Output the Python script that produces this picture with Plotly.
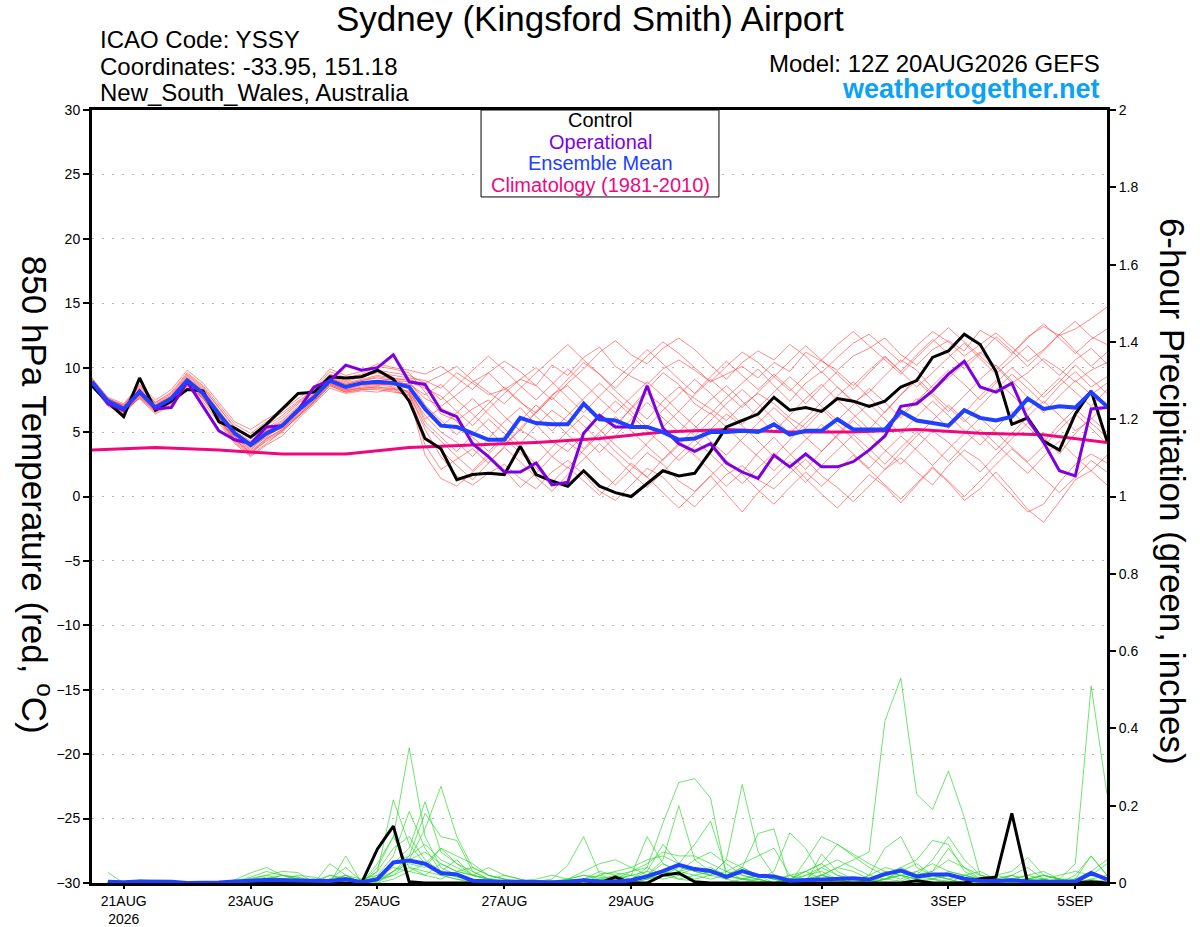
import plotly.graph_objects as go
import pandas as pd

# 6-hourly valid times, 20AUG2026 12Z -> 05SEP2026 12Z
times = pd.date_range("2026-08-20 12:00", periods=65, freq="6h")
clim_times = pd.date_range("2026-08-20 12:00", periods=17, freq="24h")

tick_dates = ["2026-08-21", "2026-08-23", "2026-08-25", "2026-08-27",
              "2026-08-29", "2026-09-01", "2026-09-03", "2026-09-05"]
tick_labels = ["21AUG<br>2026", "23AUG", "25AUG", "27AUG", "29AUG", "1SEP", "3SEP", "5SEP"]

# 850 hPa temperature (C)
control_t = [8.6, 7.3, 6.2, 9.2, 6.7, 7.4, 8.3, 8.2, 5.8, 5.3, 4.6, 5.6, 6.8, 8.0, 8.1, 9.3, 9.2, 9.3, 9.8, 9.1, 7.4,
             4.5, 3.7, 1.3, 1.7, 1.8, 1.7, 3.9, 1.7, 1.2, 0.8, 2.0, 0.8, 0.3, 0.0, 1.0, 2.0, 1.6, 1.8, 3.5, 5.4, 5.9, 6.4,
             7.7, 6.7, 6.9, 6.6, 7.6, 7.4, 7.0, 7.4, 8.5, 9.0, 10.8, 11.3, 12.6, 11.8, 9.7, 5.6, 6.1, 4.3, 3.6, 6.4, 8.2, 4.3]
operational_t = [8.9, 7.2, 6.7, 8.2, 6.8, 6.9, 8.9, 7.0, 5.1, 4.4, 4.1, 5.4, 5.5, 6.7, 8.5, 9.0, 10.2, 9.8, 10.0, 11.0, 8.9,
                 8.7, 6.7, 6.2, 4.1, 3.1, 1.9, 1.9, 2.6, 0.9, 1.1, 4.9, 6.3, 5.4, 5.4, 8.6, 5.3, 4.1, 3.5, 4.1, 2.6, 1.9, 1.4,
                 3.2, 2.3, 3.3, 2.3, 2.3, 2.7, 3.6, 4.7, 7.0, 7.2, 8.2, 9.5, 10.5, 8.5, 8.1, 8.8, 6.0, 4.2, 2.0, 1.6, 6.8, 6.9]
mean_t = [8.9, 7.4, 6.8, 8.1, 6.9, 7.6, 9.0, 8.0, 6.4, 4.9, 4.0, 4.9, 5.5, 6.7, 7.7, 9.0, 8.5, 8.8, 8.9, 8.8, 8.5,
          6.8, 5.5, 5.4, 4.9, 4.4, 4.4, 6.1, 5.7, 5.6, 5.6, 7.2, 6.0, 5.9, 5.4, 5.4, 5.0, 4.4, 4.5, 5.0, 5.0, 5.1, 5.0,
          5.6, 4.8, 5.1, 5.1, 6.0, 5.2, 5.2, 5.2, 6.6, 5.9, 5.7, 5.5, 6.7, 6.1, 5.9, 6.2, 7.6, 6.8, 7.0, 6.9, 8.1, 7.0]
climatology_t = [3.6, 3.8, 3.6, 3.3, 3.3, 3.8, 4.0, 4.2, 4.5, 5.0, 5.2, 5.0, 5.0, 5.2, 4.9, 4.8, 4.2]

member_t01 = [9.0, 7.6, 7.0, 8.4, 7.2, 7.9, 9.4, 8.4, 6.9, 5.4, 4.5, 5.3, 6.1, 7.2, 8.1, 9.4, 8.9, 9.3, 9.6, 9.4, 9.2,
              9.0, 8.4, 9.6, 8.8, 7.9, 8.3, 9.1, 8.6, 10.2, 9.4, 10.8, 11.6, 10.1, 9.3, 8.7, 9.9, 10.6, 9.8, 8.9, 9.5, 10.1, 9.2,
              10.4, 9.7, 11.2, 10.5, 9.8, 10.9, 11.5, 12.3, 11.0, 10.2, 11.4, 12.1, 11.3, 12.9, 12.2, 11.1, 12.4, 13.2, 12.5, 13.0, 13.8, 14.7]
member_t02 = [8.7, 7.2, 6.5, 7.8, 6.6, 7.3, 8.7, 7.7, 6.0, 4.4, 3.4, 4.3, 5.0, 6.3, 7.4, 8.7, 8.2, 8.5, 8.6, 8.9, 8.0,
              5.2, 3.1, 1.6, 0.9, 1.8, 2.5, 1.4, 0.6, 1.9, 2.8, 1.7, 0.4, -0.3, 0.9, 2.2, 1.5, 0.2, -0.8, 0.5, 1.7, 2.4, 1.3,
              0.6, 1.8, 2.9, 1.6, 0.7, -0.4, 0.8, 2.1, 3.0, 1.9, 0.9, 2.4, 3.6, 2.8, 1.4, 0.1, -1.2, -0.6, 1.1, 2.5, 3.3, 2.6]
member_t03 = [9.1, 7.5, 7.1, 8.6, 7.3, 8.1, 9.6, 8.6, 7.1, 5.6, 4.9, 5.8, 6.5, 7.4, 8.3, 9.7, 9.2, 9.5, 10.1, 9.9, 9.6,
              8.1, 6.4, 5.9, 6.8, 7.5, 6.2, 5.1, 6.6, 7.9, 8.6, 7.4, 6.1, 5.3, 6.9, 8.3, 9.6, 8.7, 7.2, 6.4, 7.7, 8.8, 9.9,
              8.6, 7.4, 8.8, 9.7, 8.5, 7.3, 8.1, 9.4, 10.6, 9.8, 8.4, 9.2, 10.3, 11.2, 10.1, 8.8, 9.6, 10.7, 9.9, 8.9, 9.8, 10.4]
member_t04 = [8.8, 7.1, 6.7, 7.6, 6.4, 7.1, 8.5, 7.4, 5.7, 4.1, 3.1, 4.0, 4.7, 6.0, 7.2, 8.4, 8.0, 8.2, 8.1, 8.4, 7.6,
              4.0, 2.1, 2.9, 3.7, 2.6, 3.9, 5.2, 4.4, 3.1, 2.2, 3.6, 4.8, 3.5, 2.4, 1.5, 2.9, 4.1, 3.2, 2.0, 0.8, 1.9, 3.4,
              4.6, 3.3, 2.1, 3.5, 4.7, 5.9, 4.8, 3.6, 2.5, 3.8, 5.1, 4.2, 3.0, 1.9, 3.2, 4.5, 5.7, 4.6, 3.3, 4.9, 6.1, 5.0]
member_t05 = [9.0, 7.4, 6.9, 8.2, 7.0, 7.7, 9.1, 8.1, 6.5, 4.7, 3.8, 4.6, 5.6, 6.8, 7.9, 9.1, 8.6, 8.7, 8.8, 8.6, 8.8,
              7.6, 7.0, 7.9, 8.9, 9.6, 8.4, 7.3, 6.5, 7.8, 9.1, 10.4, 9.5, 8.2, 7.1, 6.0, 7.4, 8.5, 7.6, 6.8, 5.9, 7.1, 8.0,
              7.2, 6.1, 5.3, 6.6, 7.8, 8.9, 7.7, 6.5, 7.9, 9.2, 8.0, 6.9, 5.8, 7.0, 8.3, 9.5, 8.4, 7.2, 8.6, 9.7, 8.5, 9.3]
member_t06 = [8.9, 7.3, 6.6, 7.9, 6.8, 7.5, 8.9, 7.9, 6.2, 4.6, 3.7, 4.8, 5.3, 6.5, 7.6, 8.8, 8.3, 8.6, 8.7, 8.5, 8.1,
              6.3, 5.0, 4.2, 3.1, 4.5, 5.8, 6.9, 5.6, 4.3, 3.5, 4.8, 6.2, 7.4, 6.3, 5.1, 4.0, 2.8, 3.9, 5.2, 6.4, 5.5, 4.3,
              3.1, 4.4, 5.7, 6.8, 5.6, 4.5, 3.2, 2.1, 3.4, 4.7, 5.9, 7.1, 6.0, 4.8, 3.6, 4.9, 6.2, 7.4, 6.3, 5.1, 6.0, 7.2]
member_t07 = [8.6, 7.0, 6.4, 7.7, 6.5, 7.2, 8.6, 7.6, 5.9, 4.2, 3.2, 4.1, 5.1, 6.2, 7.3, 8.6, 8.1, 8.3, 8.4, 8.2, 7.8,
              3.2, 1.4, 0.8, 1.9, 3.0, 2.1, 0.7, 1.8, 3.1, 4.2, 3.3, 2.0, 0.9, 2.1, 3.4, 2.5, 1.2, 0.4, 1.6, 0.2, -1.2, 0.3,
              1.5, 2.7, 1.4, 0.2, -0.9, 0.4, 1.7, 0.8, -0.5, 0.9, 2.2, 1.1, -0.3, 0.6, 1.9, 0.5, -1.0, -2.0, -0.4, 1.3, 2.0, 0.9]
member_t08 = [9.2, 7.7, 7.2, 8.7, 7.5, 8.3, 9.8, 8.8, 7.3, 5.8, 5.2, 6.0, 6.7, 7.6, 8.5, 9.9, 9.4, 9.7, 10.3, 10.0, 9.8,
              9.5, 10.1, 9.2, 8.3, 9.6, 10.5, 9.7, 8.6, 7.5, 8.8, 9.9, 11.2, 12.1, 11.0, 10.3, 11.5, 12.3, 11.4, 10.2, 9.1, 10.4, 11.3,
              10.6, 11.8, 10.9, 9.6, 10.8, 11.9, 12.6, 11.5, 10.4, 11.7, 12.8, 12.0, 10.9, 11.8, 12.7, 11.6, 10.5, 11.4, 12.6, 11.3, 10.1, 11.2]
member_t09 = [8.8, 7.3, 6.8, 8.0, 6.9, 7.6, 8.9, 8.0, 6.3, 4.8, 3.9, 4.9, 5.4, 6.6, 7.6, 9.0, 8.4, 8.9, 9.0, 9.1, 8.6,
              6.9, 5.4, 6.5, 7.6, 6.4, 5.3, 4.1, 5.5, 6.7, 5.8, 4.6, 3.4, 4.7, 6.0, 7.3, 6.1, 5.0, 6.3, 7.5, 8.6, 7.4, 6.2,
              5.0, 6.3, 7.6, 8.7, 7.5, 6.4, 5.2, 6.6, 7.9, 9.0, 7.8, 6.6, 7.8, 9.1, 10.2, 9.0, 7.7, 6.5, 7.8, 9.0, 7.9, 8.8]
member_t10 = [8.9, 7.5, 6.9, 8.1, 7.0, 7.7, 9.2, 8.2, 6.6, 5.0, 4.1, 5.1, 5.6, 6.9, 7.8, 9.2, 8.7, 9.0, 9.2, 9.0, 8.9,
              8.4, 7.8, 6.6, 5.5, 6.8, 8.0, 9.1, 10.0, 8.9, 7.7, 6.5, 7.8, 9.0, 10.2, 11.4, 10.3, 9.1, 8.0, 9.3, 10.5, 9.4, 8.3,
              9.5, 8.4, 7.2, 8.5, 9.7, 8.6, 9.8, 10.9, 9.7, 8.5, 9.6, 10.8, 11.9, 10.7, 9.5, 10.6, 11.7, 10.5, 9.4, 10.6, 11.5, 10.3]
member_t11 = [8.7, 7.2, 6.6, 7.9, 6.7, 7.4, 8.8, 7.8, 6.1, 4.5, 3.5, 4.5, 5.2, 6.4, 7.5, 8.8, 8.3, 8.4, 8.5, 8.3, 8.2,
              5.8, 4.6, 3.5, 4.8, 6.0, 4.9, 3.7, 2.5, 3.8, 5.1, 6.3, 5.2, 4.0, 2.9, 4.1, 5.4, 6.6, 5.5, 4.3, 3.2, 4.5, 5.7,
              6.9, 5.8, 4.6, 3.5, 4.8, 6.1, 7.2, 6.0, 4.9, 6.2, 7.4, 6.3, 5.1, 4.0, 5.3, 6.6, 5.4, 4.2, 5.6, 6.8, 5.7, 4.6]
member_t12 = [9.0, 7.6, 7.0, 8.3, 7.1, 7.8, 9.3, 8.3, 6.7, 5.1, 4.3, 5.2, 5.9, 7.0, 8.0, 9.3, 8.8, 9.1, 9.4, 9.2, 9.0,
              7.1, 5.9, 4.8, 6.0, 7.2, 8.5, 7.4, 6.2, 5.1, 6.3, 7.6, 8.8, 7.7, 6.6, 5.4, 6.7, 7.9, 9.1, 8.0, 6.8, 5.6, 6.9,
              8.1, 9.3, 8.2, 7.0, 5.9, 7.1, 8.4, 7.3, 6.1, 7.4, 8.6, 9.8, 8.7, 7.5, 8.8, 10.0, 8.9, 7.7, 8.9, 10.2, 9.1, 8.0]
member_t13 = [8.6, 7.1, 6.5, 7.7, 6.6, 7.3, 8.6, 7.6, 6.0, 4.3, 3.3, 4.4, 5.1, 6.2, 7.3, 8.6, 8.1, 8.3, 8.3, 8.1, 7.9,
              4.6, 3.6, 2.4, 1.3, 2.6, 3.8, 2.7, 1.5, 0.4, 1.7, 2.9, 4.1, 3.0, 1.8, 0.7, 1.9, 3.2, 4.4, 3.3, 2.1, 1.0, 2.2,
              3.4, 2.3, 1.1, 2.4, 3.6, 4.8, 3.7, 2.5, 3.8, 5.0, 3.9, 2.7, 4.0, 5.2, 4.1, 2.9, 1.8, 3.1, 4.3, 3.1, 2.0, 3.2]
member_t14 = [9.1, 7.6, 7.1, 8.5, 7.3, 8.0, 9.5, 8.5, 6.9, 5.3, 4.6, 5.5, 6.3, 7.3, 8.2, 9.5, 9.0, 9.4, 9.8, 9.6, 9.4,
              8.8, 9.4, 10.1, 9.0, 8.1, 7.2, 8.4, 9.6, 10.7, 11.8, 10.6, 9.5, 8.4, 9.7, 10.9, 12.0, 11.1, 10.0, 8.9, 10.1, 11.2, 10.4,
              9.3, 10.5, 11.7, 10.6, 11.8, 12.8, 11.7, 10.6, 9.5, 10.8, 12.0, 13.1, 12.0, 10.9, 9.8, 11.0, 12.3, 13.4, 12.3, 11.1, 12.2, 13.0]
member_t15 = [8.8, 7.3, 6.7, 8.0, 6.8, 7.5, 9.0, 7.9, 6.2, 4.6, 3.6, 4.7, 5.4, 6.5, 7.6, 8.9, 8.4, 8.7, 8.7, 8.7, 8.4,
              6.0, 6.9, 5.8, 4.6, 3.5, 4.7, 5.9, 7.1, 6.0, 4.8, 3.7, 5.0, 6.2, 5.1, 3.9, 2.8, 4.0, 5.3, 6.5, 5.4, 4.2, 3.1,
              2.0, 3.2, 4.4, 5.6, 4.5, 3.3, 2.2, 3.5, 4.7, 3.6, 2.4, 3.7, 4.9, 6.1, 5.0, 3.8, 2.7, 3.9, 5.2, 6.4, 5.3, 4.1]
member_t16 = [8.9, 7.4, 6.8, 8.2, 7.0, 7.6, 9.1, 8.1, 6.5, 4.9, 4.0, 5.0, 5.7, 6.8, 7.8, 9.1, 8.6, 8.8, 9.0, 8.9, 8.7,
              7.9, 8.7, 7.5, 6.4, 5.2, 4.0, 5.3, 6.5, 7.7, 6.6, 5.5, 4.3, 5.6, 6.8, 8.0, 7.0, 5.8, 4.7, 5.9, 7.2, 8.3, 7.2,
              6.0, 4.9, 6.1, 7.3, 8.5, 7.4, 6.2, 5.1, 6.3, 7.6, 6.5, 5.3, 6.5, 7.8, 9.0, 7.9, 6.7, 8.0, 9.2, 8.1, 7.0, 8.3]
member_t17 = [8.7, 7.2, 6.6, 7.8, 6.7, 7.4, 8.7, 7.7, 6.1, 4.4, 3.4, 4.5, 5.2, 6.3, 7.4, 8.7, 8.2, 8.4, 8.5, 8.4, 8.0,
              5.5, 4.3, 3.1, 2.0, 3.3, 4.5, 3.4, 2.2, 1.1, 2.3, 1.2, 0.1, 1.3, 2.6, 1.5, 0.3, -0.9, 0.3, 1.6, 2.8, 1.7, 0.5,
              -0.6, 0.7, 1.9, 0.8, 2.0, 3.2, 2.1, 0.9, -0.2, 1.0, 2.3, 1.2, 0.0, 1.2, 2.5, 3.7, 2.6, 1.4, 0.3, 1.5, 2.8, 1.9]
member_t18 = [9.0, 7.5, 6.9, 8.3, 7.1, 7.8, 9.2, 8.2, 6.6, 5.0, 4.2, 5.1, 5.8, 6.9, 7.9, 9.2, 8.7, 9.0, 9.3, 9.1, 9.1,
              8.6, 7.5, 8.6, 9.8, 10.9, 9.8, 8.6, 7.5, 8.7, 9.9, 8.8, 7.6, 6.5, 7.7, 8.9, 7.8, 6.6, 7.9, 9.1, 8.0, 6.9, 8.1,
              9.3, 8.2, 9.4, 10.6, 9.5, 8.3, 9.6, 10.8, 9.7, 11.0, 12.2, 11.1, 9.9, 11.1, 12.4, 11.3, 10.1, 11.3, 12.6, 13.6, 12.4, 11.8]

# 6-hour precipitation (inches), valid 18Z 20AUG onward (times[1:])
control_p = [0, 0, 0, 0, 0, 0, 0, 0, 0, 0, 0, 0, 0, 0, 0, 0,
             0, 0.088, 0.147, 0.003, 0, 0, 0, 0, 0, 0, 0, 0, 0, 0, 0.007, 0,
             0.015, 0, 0, 0.02, 0.026, 0.003, 0, 0, 0, 0, 0, 0, 0, 0, 0, 0,
             0, 0, 0, 0.006, 0, 0, 0, 0.011, 0.015, 0.18, 0, 0, 0.004, 0, 0.003, 0]
mean_p = [0.003, 0.002, 0.004, 0.004, 0.003, 0.0, 0.0, 0.001, 0.004, 0.006, 0.008, 0.007, 0.006, 0.004, 0.005, 0.01,
          0.002, 0.01, 0.053, 0.058, 0.05, 0.026, 0.022, 0.006, 0.004, 0.003, 0.003, 0.002, 0.002, 0.003, 0.007, 0.004,
          0.003, 0.007, 0.017, 0.031, 0.047, 0.036, 0.031, 0.016, 0.031, 0.019, 0.017, 0.006, 0.007, 0.01, 0.01, 0.012,
          0.009, 0.023, 0.032, 0.017, 0.022, 0.022, 0.011, 0.006, 0.005, 0.007, 0.004, 0.003, 0.003, 0.003, 0.026, 0.009]

member_p01 = [0.027, 0, 0.008, 0.005, 0, 0, 0, 0, 0.004, 0.012, 0.02, 0.01, 0.006, 0, 0.01, 0.02,
              0, 0.03, 0.215, 0.10, 0.05, 0.02, 0.01, 0.005, 0, 0, 0, 0.004, 0.01, 0.046, 0.12, 0.024,
              0.026, 0.02, 0.01, 0.03, 0.01, 0.005, 0, 0, 0.01, 0.02, 0.01, 0, 0, 0.01, 0.005, 0,
              0, 0.01, 0.02, 0.01, 0, 0, 0.005, 0, 0, 0, 0.01, 0, 0, 0, 0.005, 0]
member_p02 = [0, 0, 0, 0, 0, 0, 0, 0, 0.008, 0.026, 0.04, 0.02, 0.01, 0, 0.02, 0.01,
              0, 0.05, 0.12, 0.35, 0.12, 0.04, 0.02, 0.01, 0.005, 0, 0, 0, 0, 0.01, 0.02, 0.01,
              0, 0.01, 0.04, 0.155, 0.26, 0.27, 0.22, 0.016, 0.01, 0.005, 0, 0.02, 0.03, 0.01, 0, 0,
              0.01, 0.03, 0.02, 0, 0.01, 0.005, 0, 0, 0.01, 0.02, 0, 0, 0, 0.01, 0, 0]
member_p03 = [0, 0, 0.003, 0, 0, 0, 0, 0, 0, 0.01, 0.02, 0.03, 0.027, 0, 0.05, 0.02,
              0, 0.02, 0.07, 0.185, 0.09, 0.03, 0.06, 0.02, 0.01, 0, 0.005, 0.01, 0.02, 0.01, 0, 0,
              0, 0, 0.02, 0.06, 0.2, 0.06, 0.03, 0.02, 0.04, 0.02, 0, 0, 0.01, 0.02, 0.01, 0,
              0.02, 0.09, 0.12, 0.04, 0.02, 0.01, 0, 0, 0.02, 0.01, 0, 0, 0.01, 0, 0.02, 0.01]
member_p04 = [0, 0, 0, 0.004, 0, 0, 0, 0, 0.005, 0.015, 0.03, 0.02, 0.015, 0.005, 0, 0.07,
              0, 0.01, 0.05, 0.09, 0.21, 0.08, 0.05, 0.03, 0.01, 0, 0, 0, 0.005, 0, 0.01, 0.03,
              0.02, 0.01, 0.03, 0.10, 0.05, 0.10, 0.16, 0.03, 0.02, 0.01, 0, 0.01, 0.03, 0.05, 0.02, 0.01,
              0, 0.02, 0.04, 0.06, 0.11, 0.10, 0.03, 0.01, 0, 0.02, 0.04, 0.01, 0, 0, 0.01, 0]
member_p05 = [0, 0, 0, 0, 0, 0, 0, 0, 0, 0.005, 0.01, 0.012, 0.005, 0, 0, 0.01,
              0, 0.005, 0.02, 0.06, 0.14, 0.25, 0.12, 0.04, 0.02, 0.01, 0, 0, 0.005, 0.01, 0.02, 0.015,
              0.01, 0, 0.01, 0.02, 0.04, 0.03, 0.02, 0.06, 0.255, 0.08, 0.02, 0.01, 0, 0.02, 0.04, 0.03,
              0.01, 0.02, 0.04, 0.02, 0.01, 0.03, 0.02, 0.01, 0, 0.01, 0.02, 0.01, 0, 0.01, 0.07, 0.02]
member_p06 = [0, 0, 0, 0, 0, 0, 0, 0, 0, 0.008, 0.015, 0.01, 0.02, 0.015, 0.005, 0.02,
              0.01, 0, 0.03, 0.07, 0.18, 0.12, 0.11, 0.03, 0.01, 0.02, 0.01, 0, 0, 0, 0.01, 0.005,
              0.01, 0.02, 0.12, 0.05, 0.03, 0.02, 0.01, 0.02, 0.04, 0.128, 0.14, 0, 0.01, 0.02, 0.01, 0,
              0, 0.01, 0.005, 0.02, 0.03, 0.06, 0.04, 0.01, 0, 0, 0.01, 0.02, 0.01, 0, 0, 0.01]
member_p07 = [0, 0, 0, 0, 0, 0, 0, 0, 0, 0, 0.005, 0.008, 0.01, 0, 0.01, 0.04,
              0.005, 0.03, 0.09, 0.12, 0.06, 0.03, 0.015, 0.01, 0, 0, 0, 0, 0, 0, 0.01, 0.02,
              0.03, 0.04, 0.06, 0.07, 0.05, 0.03, 0.04, 0.02, 0.01, 0.01, 0, 0, 0.058, 0.12, 0.10, 0.074,
              0.05, 0.03, 0.02, 0.01, 0.02, 0.01, 0, 0.01, 0.02, 0.03, 0.066, 0.02, 0.01, 0, 0, 0]
member_p08 = [0, 0, 0, 0, 0, 0, 0, 0, 0, 0, 0.01, 0.02, 0.015, 0, 0, 0.02,
              0, 0.01, 0.05, 0.07, 0.1, 0.06, 0.04, 0.02, 0.01, 0.005, 0, 0, 0, 0.01, 0.03, 0.05,
              0.06, 0.04, 0.02, 0.03, 0.02, 0.01, 0.02, 0.03, 0.05, 0.07, 0.09, 0.02, 0, 0.075, 0.03, 0.01,
              0.005, 0.01, 0.03, 0.05, 0.02, 0.01, 0.02, 0.03, 0.01, 0, 0, 0.01, 0.02, 0.03, 0.02, 0.01]
member_p09 = [0, 0, 0, 0, 0, 0, 0, 0, 0, 0.005, 0.01, 0.005, 0, 0.005, 0.02, 0.01,
              0, 0.04, 0.12, 0.04, 0.02, 0.01, 0.03, 0.02, 0.01, 0, 0, 0, 0, 0, 0, 0.01,
              0.02, 0.03, 0.05, 0.08, 0.07, 0.07, 0.05, 0.03, 0.01, 0.02, 0.01, 0, 0.02, 0.04, 0.02, 0.01,
              0, 0.01, 0.02, 0.03, 0.01, 0, 0.02, 0.01, 0, 0.01, 0.02, 0.03, 0.01, 0, 0.01, 0.02]
member_p10 = [0, 0, 0, 0, 0, 0, 0, 0, 0, 0, 0.005, 0.01, 0.01, 0.005, 0, 0,
              0, 0.01, 0.03, 0.06, 0.08, 0.05, 0.03, 0.04, 0.02, 0.01, 0, 0, 0, 0, 0, 0.005,
              0.01, 0.03, 0.04, 0.02, 0.03, 0.06, 0.08, 0.05, 0.02, 0.01, 0, 0.01, 0.03, 0.05, 0.10, 0.07,
              0.04, 0.02, 0.01, 0.03, 0.05, 0.03, 0.02, 0.01, 0, 0, 0.01, 0.02, 0.01, 0.005, 0.02, 0.05]
member_p11 = [0, 0, 0, 0, 0, 0, 0, 0, 0, 0, 0, 0.005, 0.01, 0, 0, 0.01,
              0, 0.01, 0.02, 0.04, 0.03, 0.02, 0.01, 0, 0, 0, 0, 0, 0, 0, 0.005, 0.01,
              0.01, 0.02, 0.03, 0.02, 0.01, 0.02, 0.03, 0.02, 0.01, 0, 0, 0.01, 0, 0.02, 0.04, 0.06,
              0.08, 0.42, 0.53, 0.23, 0.19, 0.29, 0.17, 0.02, 0.01, 0, 0, 0.01, 0, 0.01, 0.02, 0.01]
member_p12 = [0, 0, 0, 0, 0, 0, 0, 0, 0, 0, 0, 0, 0.005, 0, 0, 0,
              0, 0.005, 0.03, 0.05, 0.04, 0.09, 0.05, 0.02, 0.01, 0, 0, 0, 0, 0, 0, 0,
              0, 0.01, 0.02, 0.01, 0.02, 0.04, 0.03, 0.01, 0, 0.01, 0.03, 0.13, 0.09, 0.02, 0.01, 0,
              0, 0.01, 0.02, 0.01, 0.01, 0.02, 0.01, 0, 0, 0, 0.01, 0.02, 0.01, 0.05, 0.51, 0.23]
member_p13 = [0, 0, 0, 0, 0, 0, 0, 0, 0, 0.004, 0.008, 0.01, 0.005, 0.01, 0.005, 0,
              0.01, 0.02, 0.04, 0.03, 0.02, 0.05, 0.03, 0.02, 0.04, 0.02, 0.01, 0, 0, 0.01, 0.005, 0,
              0, 0.01, 0.02, 0.05, 0.03, 0.04, 0.02, 0.01, 0.03, 0.02, 0.01, 0.01, 0.02, 0.03, 0.01, 0.005,
              0.02, 0.04, 0.03, 0.02, 0.03, 0.09, 0.04, 0.02, 0.01, 0.005, 0.01, 0.01, 0, 0.02, 0.07, 0.02]
member_p14 = [0, 0, 0, 0, 0, 0, 0, 0, 0, 0.005, 0.01, 0.02, 0.01, 0, 0.01, 0,
              0, 0, 0.01, 0.03, 0.05, 0.09, 0.07, 0.05, 0.02, 0.01, 0.005, 0, 0, 0, 0, 0.02,
              0.01, 0, 0.01, 0.02, 0.05, 0.03, 0.02, 0.06, 0.04, 0.02, 0.01, 0.02, 0.01, 0.04, 0.06, 0.04,
              0.02, 0.01, 0.03, 0.02, 0.06, 0.12, 0.06, 0.02, 0.01, 0.02, 0.01, 0.005, 0.01, 0.01, 0.03, 0.06]

temp_members = [member_t01, member_t02, member_t03, member_t04, member_t05, member_t06,
                member_t07, member_t08, member_t09, member_t10, member_t11, member_t12,
                member_t13, member_t14, member_t15, member_t16, member_t17, member_t18]
precip_members = [member_p01, member_p02, member_p03, member_p04, member_p05, member_p06, member_p07,
                  member_p08, member_p09, member_p10, member_p11, member_p12, member_p13, member_p14]

legend_names = ["Control", "Operational", "Ensemble Mean", "Climatology (1981-2010)"]
legend_colors = ["black", "#7f00df", "#2040ff", "#f0077f"]

for k, m in enumerate(temp_members):
    assert len(m) == 65, f"temp member {k+1} has {len(m)}"
for k, m in enumerate(precip_members):
    assert len(m) == 64, f"precip member {k+1} has {len(m)}"

FONT = "Liberation Sans, Arial, Helvetica, sans-serif"
ptimes = times[1:]

fig = go.Figure()

for m in temp_members:
    fig.add_trace(go.Scatter(x=times, y=m, mode="lines",
                             line=dict(color="rgba(255,60,60,0.75)", width=0.8)))
for m in precip_members:
    fig.add_trace(go.Scatter(x=ptimes, y=m, mode="lines", yaxis="y2",
                             line=dict(color="rgba(40,215,40,0.85)", width=0.8)))

fig.add_trace(go.Scatter(x=clim_times, y=climatology_t, mode="lines",
                         line=dict(color=legend_colors[3], width=3)))
fig.add_trace(go.Scatter(x=times, y=control_t, mode="lines", line=dict(color="black", width=3)))
fig.add_trace(go.Scatter(x=ptimes, y=control_p, mode="lines", yaxis="y2",
                         line=dict(color="black", width=3)))
fig.add_trace(go.Scatter(x=times, y=operational_t, mode="lines", line=dict(color=legend_colors[1], width=3)))
fig.add_trace(go.Scatter(x=times, y=mean_t, mode="lines", line=dict(color=legend_colors[2], width=4)))
fig.add_trace(go.Scatter(x=ptimes, y=mean_p, mode="lines", yaxis="y2",
                         line=dict(color=legend_colors[2], width=4)))

annotations = [
    dict(text="Sydney (Kingsford Smith) Airport", x=0.4906, y=1.119, xref="paper", yref="paper",
         xanchor="center", yanchor="middle", showarrow=False, font=dict(size=35, color="black")),
    dict(text="ICAO Code: YSSY", x=0.006, y=1.0906, xref="paper", yref="paper",
         xanchor="left", yanchor="middle", showarrow=False, font=dict(size=24, color="black")),
    dict(text="Coordinates: -33.95, 151.18", x=0.006, y=1.0569, xref="paper", yref="paper",
         xanchor="left", yanchor="middle", showarrow=False, font=dict(size=24, color="black")),
    dict(text="New_South_Wales, Australia", x=0.006, y=1.022, xref="paper", yref="paper",
         xanchor="left", yanchor="middle", showarrow=False, font=dict(size=24, color="black")),
    dict(text="Model: 12Z 20AUG2026 GEFS", x=0.995, y=1.0608, xref="paper", yref="paper",
         xanchor="right", yanchor="middle", showarrow=False, font=dict(size=24, color="black")),
    dict(text="<b>weathertogether.net</b>", x=0.995, y=1.0272, xref="paper", yref="paper",
         xanchor="right", yanchor="middle", showarrow=False, font=dict(size=27, color="#0aa2f5")),
    dict(text="850 hPa Temperature (red, <sup>o</sup>C)", x=-0.054, y=0.502, xref="paper", yref="paper",
         xanchor="center", yanchor="middle", textangle=90, showarrow=False,
         font=dict(size=35, color="black")),
    dict(text="6-hour Precipitation (green, inches)", x=1.064, y=0.506, xref="paper", yref="paper",
         xanchor="center", yanchor="middle", textangle=90, showarrow=False,
         font=dict(size=35, color="black")),
]
# legend box lines, centred above the plot middle
for name, color, ly in zip(legend_names, legend_colors, [0.9871, 0.9586, 0.9314, 0.9030]):
    annotations.append(dict(text=name, x=0.5005, y=ly, xref="paper", yref="paper",
                            xanchor="center", yanchor="middle", showarrow=False,
                            font=dict(size=20, color=color)))

fig.update_layout(
    width=1200, height=927,
    margin=dict(l=92, r=93, t=110, b=44),
    paper_bgcolor="white", plot_bgcolor="white",
    font=dict(family=FONT, color="black"),
    showlegend=False,
    hovermode=False,
    annotations=annotations,
    shapes=[dict(type="rect", xref="paper", yref="paper", x0=0.3833, x1=0.6177, y0=0.8875, y1=1.0,
                 line=dict(color="black", width=1), fillcolor="white", layer="above")],
    xaxis=dict(type="date", range=[times[0], times[-1]], showgrid=False, zeroline=False,
               automargin=False,
               showline=True, linecolor="black", linewidth=3, mirror=True,
               ticks="outside", ticklen=3, tickwidth=1.5, tickcolor="black",
               tickvals=tick_dates, ticktext=tick_labels, tickfont=dict(size=14)),
    yaxis=dict(range=[-30, 30], tickvals=list(range(-30, 31, 5)), showgrid=True, automargin=False,
               gridcolor="#b4b4b4", gridwidth=1, griddash="2px,8px", zeroline=False,
               showline=True, linecolor="black", linewidth=3,
               ticks="outside", ticklen=6, tickwidth=1.5, tickcolor="black", tickfont=dict(size=14)),
    yaxis2=dict(range=[0, 2], overlaying="y", side="right", showgrid=False, zeroline=False,
                automargin=False,
                tickvals=[0, 0.2, 0.4, 0.6, 0.8, 1.0, 1.2, 1.4, 1.6, 1.8, 2.0],
                ticktext=["0", "0.2", "0.4", "0.6", "0.8", "1", "1.2", "1.4", "1.6", "1.8", "2"],
                showline=True, linecolor="black", linewidth=3,
                ticks="outside", ticklen=6, tickwidth=1.5, tickcolor="black", tickfont=dict(size=14)),
)

# page body has a default 8px margin; drop it so the figure sits at the window origin
fig.write_html("out.html", config={"displayModeBar": False},
               post_script="document.body.style.margin='0px';")
